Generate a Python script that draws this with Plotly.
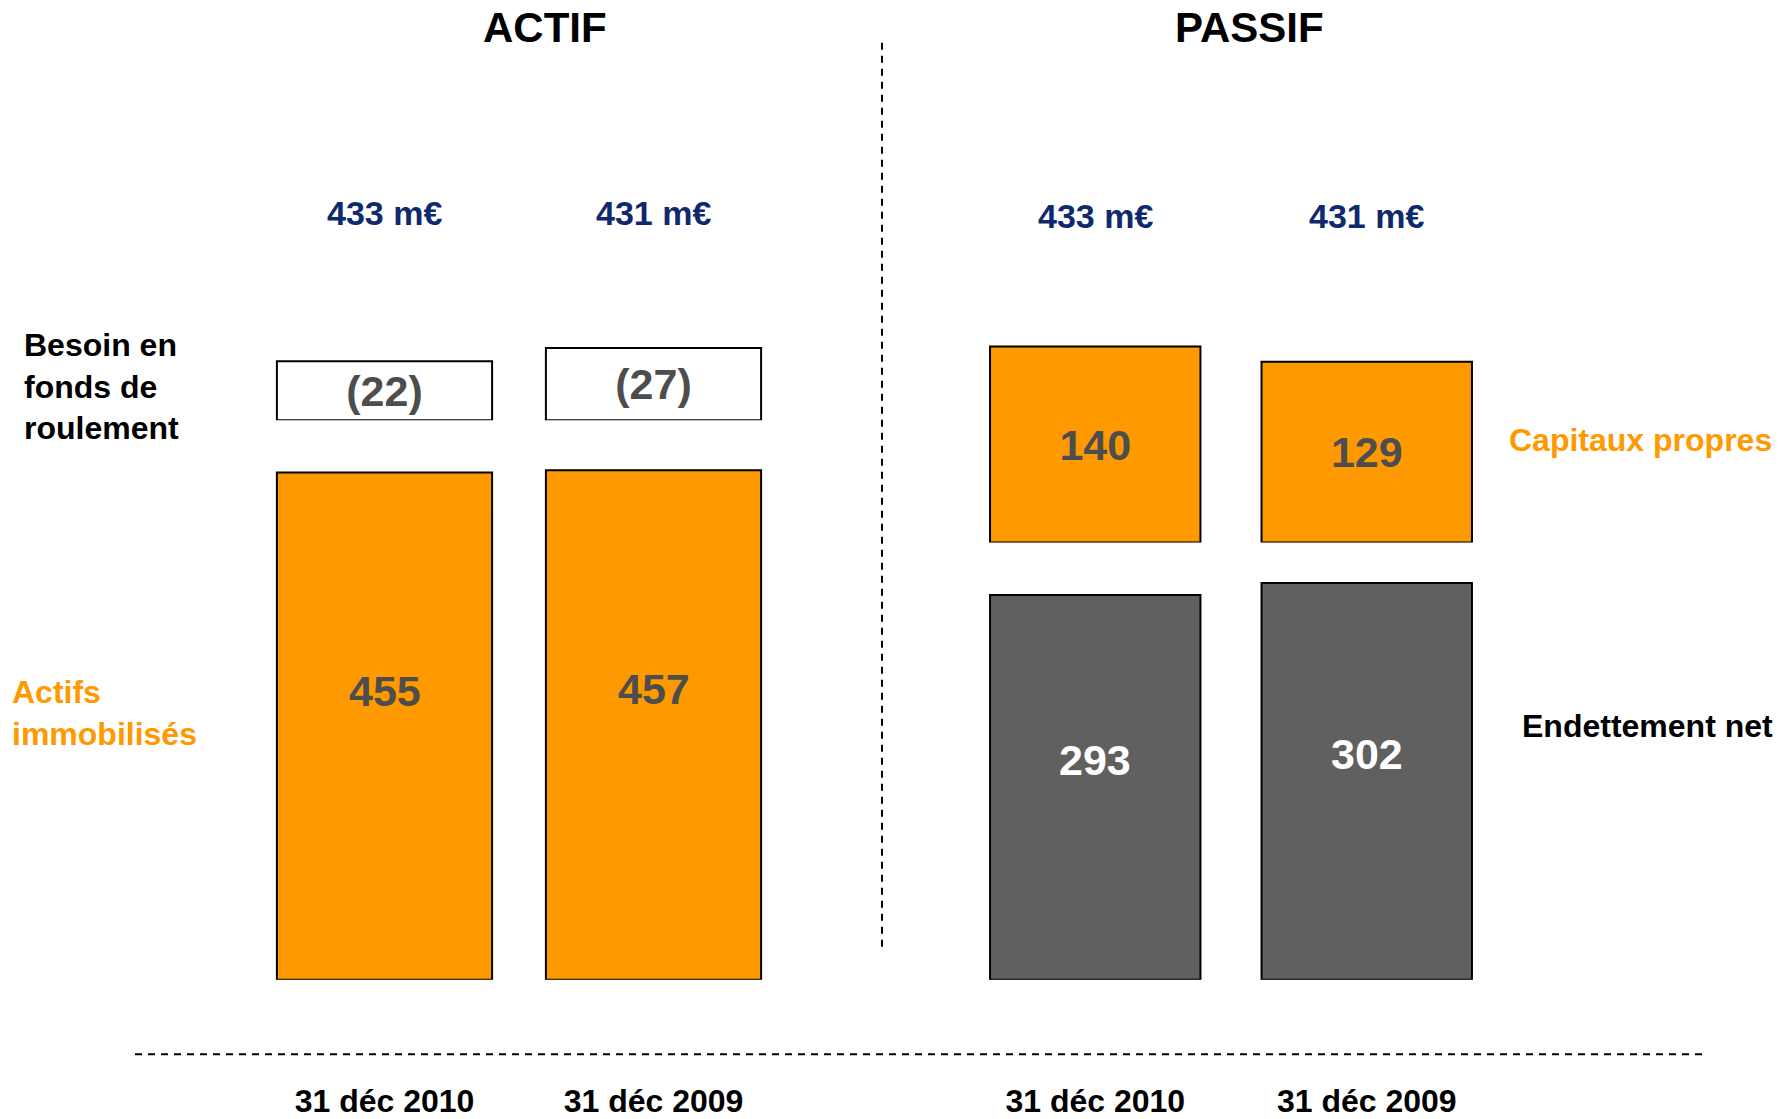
import plotly.graph_objects as go

W, H = 1789, 1119

# ---- data ----
dates = ["31 déc 2010", "31 déc 2009"]
actifs_immobilises = [455, 457]
besoin_fonds_roulement = [-22, -27]
capitaux_propres = [140, 129]
endettement_net = [293, 302]
totaux = [433, 431]

# ---- style ----
FONT = "Liberation Sans, Arial, sans-serif"
ORANGE = "#FF9900"
DARK = "#606060"
GRAY_TXT = "#4D4D4D"
NAVY = "#0F2A6C"
LABEL_FRAC = 0.57  # value labels of tall bars sit a bit above the middle


def fx(p):
    return p / W


def fy(p):
    return 1 - p / H


def fmt_neg(v):
    return f"({abs(v)})" if v < 0 else str(v)


def bar_font(c):
    return dict(family=FONT, size=43, color=c, weight="bold")


outline = dict(color="black", width=2)

fig = go.Figure()

fig.add_trace(go.Bar(
    x=dates, y=actifs_immobilises, xaxis="x", yaxis="y",
    marker=dict(color=ORANGE, line=outline), width=0.8,
    cliponaxis=False, hoverinfo="skip", name="Actifs immobilisés"))

fig.add_trace(go.Bar(
    x=dates, y=[abs(v) for v in besoin_fonds_roulement], xaxis="x", yaxis="y3",
    marker=dict(color="white", line=outline), width=0.8,
    text=[fmt_neg(v) for v in besoin_fonds_roulement], textposition="inside",
    insidetextanchor="middle", textfont=bar_font(GRAY_TXT),
    constraintext="none", cliponaxis=False, hoverinfo="skip",
    name="Besoin en fonds de roulement"))

fig.add_trace(go.Bar(
    x=dates, y=endettement_net, xaxis="x2", yaxis="y2",
    marker=dict(color=DARK, line=outline), width=0.775,
    cliponaxis=False, hoverinfo="skip", name="Endettement net"))

fig.add_trace(go.Bar(
    x=dates, y=capitaux_propres, xaxis="x2", yaxis="y4",
    marker=dict(color=ORANGE, line=outline), width=0.775,
    text=[str(v) for v in capitaux_propres], textposition="inside",
    insidetextanchor="middle", textfont=bar_font(GRAY_TXT),
    constraintext="none", cliponaxis=False, hoverinfo="skip",
    name="Capitaux propres"))

# value labels of the tall bars, placed on the bars' own axes
for xa, ya, vals, col in (("x", "y", actifs_immobilises, GRAY_TXT),
                          ("x2", "y2", endettement_net, "white")):
    for d, v in zip(dates, vals):
        fig.add_annotation(text=str(v), x=d, xref=xa, y=v * LABEL_FRAC, yref=ya,
                           showarrow=False, xanchor="center", yanchor="middle",
                           font=bar_font(col))

xcommon = dict(type="category", range=[-0.5, 1.5], showgrid=False, zeroline=False,
               showline=False, ticks="", fixedrange=True,
               tickfont=dict(family=FONT, size=32, color="black", weight="bold"),
               ticklabelstandoff=99)
ycommon = dict(visible=False, showgrid=False, zeroline=False, fixedrange=True)

fig.update_layout(
    width=W, height=H,
    margin=dict(l=0, r=0, t=0, b=0),
    paper_bgcolor="white", plot_bgcolor="rgba(0,0,0,0)",
    showlegend=False, barmode="overlay",
    xaxis=dict(domain=[fx(250), fx(788)], anchor="y", **xcommon),
    xaxis2=dict(domain=[fx(959.5), fx(1502.5)], anchor="y2", **xcommon),
    yaxis=dict(domain=[fy(986), fy(447.4)], range=[0, 480], anchor="x", **ycommon),
    yaxis3=dict(domain=[fy(423), fy(315)], range=[0, 40], anchor="x", **ycommon),
    yaxis2=dict(domain=[fy(986), fy(569.6)], range=[0, 315], anchor="x2", **ycommon),
    yaxis4=dict(domain=[fy(546), fy(334.5)], range=[0, 150], anchor="x2", **ycommon),
)

# dashed separators
dash_line = dict(color="black", width=2, dash="7px,6px")
fig.add_shape(type="line", xref="paper", yref="paper",
              x0=fx(882), x1=fx(882), y0=fy(43), y1=fy(958), line=dash_line)
fig.add_shape(type="line", xref="paper", yref="paper",
              x0=fx(135), x1=fx(1708), y0=fy(1061), y1=fy(1061), line=dash_line)

# panel titles
for txt, xc in (("ACTIF", 545), ("PASSIF", 1249)):
    fig.add_annotation(text=txt, x=fx(xc), y=fy(28), xref="paper", yref="paper",
                       showarrow=False, xanchor="center", yanchor="middle",
                       font=dict(family=FONT, size=42, color="black", weight="bold"))

# totals above each column
for xa, yc in (("x", 214), ("x2", 217)):
    for d, t in zip(dates, totaux):
        fig.add_annotation(text=f"{t} m€", x=d, xref=xa, y=fy(yc), yref="paper",
                           showarrow=False, xanchor="center", yanchor="middle",
                           font=dict(family=FONT, size=34, color=NAVY, weight="bold"))

# side labels
side = dict(xref="paper", yref="paper", showarrow=False, yanchor="middle")
fig.add_annotation(text="Besoin en<br>fonds de<br>roulement", x=fx(22), y=fy(389),
                   xanchor="left", align="left",
                   font=dict(family=FONT, size=32, color="black", weight="bold"), **side)
fig.add_annotation(text="Actifs<br>immobilisés", x=fx(10), y=fy(717),
                   xanchor="left", align="left",
                   font=dict(family=FONT, size=32, color=ORANGE, weight="bold"), **side)
fig.add_annotation(text="Capitaux propres", x=fx(1774), y=fy(443),
                   xanchor="right", align="right",
                   font=dict(family=FONT, size=32, color=ORANGE, weight="bold"), **side)
fig.add_annotation(text="Endettement net", x=fx(1775), y=fy(731),
                   xanchor="right", align="right",
                   font=dict(family=FONT, size=32, color="black", weight="bold"), **side)

# make the figure fill the window exactly (no page margin, no overflow)
page_css = ("document.body.style.margin='0';"
            "document.body.style.lineHeight='0';"
            "document.body.style.overflow='hidden';"
            "document.documentElement.style.overflow='hidden';"
            "var gd=document.getElementById('{plot_id}');"
            "gd.style.overflow='hidden';gd.style.height='1119px';")

fig.write_html("out.html", config={"displayModeBar": False}, post_script=page_css)
